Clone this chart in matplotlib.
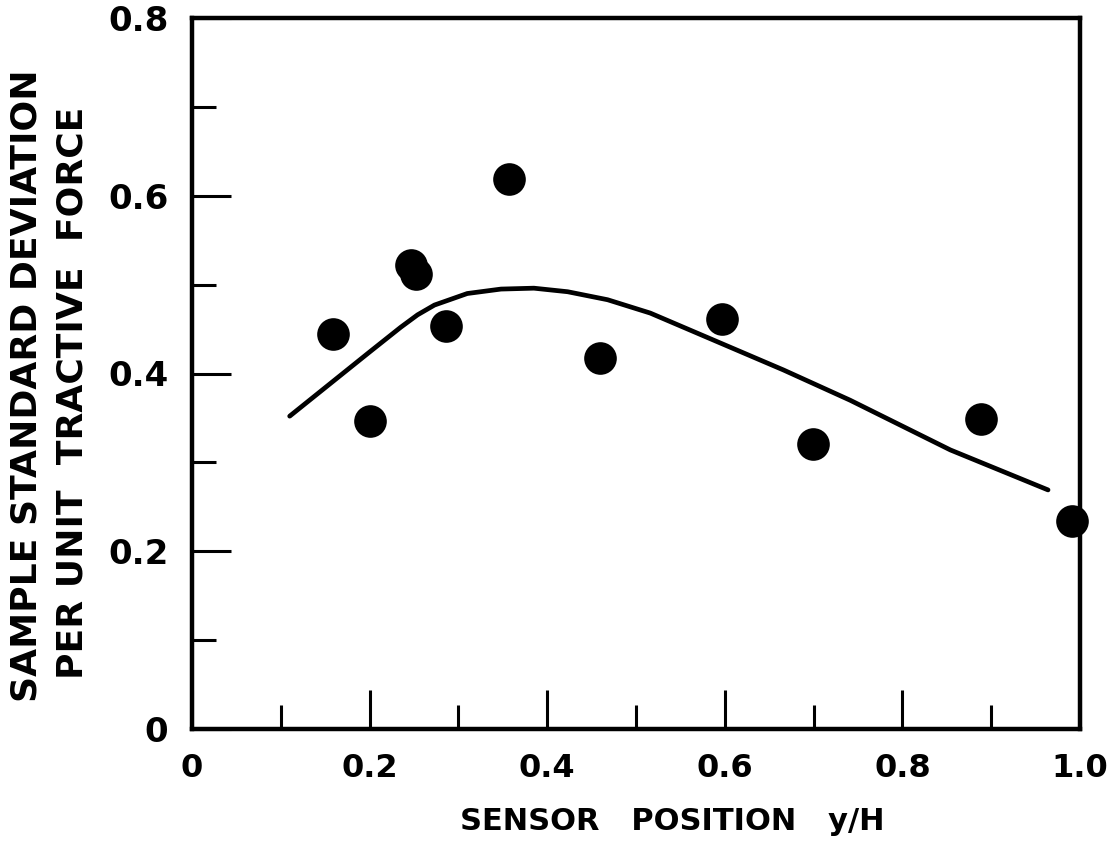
import matplotlib
matplotlib.use("Agg")
import matplotlib.pyplot as plt
from matplotlib.ticker import MultipleLocator, FixedLocator

# Data
pos_x = [0.159, 0.201, 0.247, 0.252, 0.286, 0.357, 0.459, 0.597, 0.699, 0.888, 0.991]
std_y = [0.444, 0.347, 0.522, 0.512, 0.453, 0.619, 0.418, 0.461, 0.321, 0.349, 0.234]

curve_x = [0.110, 0.201, 0.235, 0.254, 0.273, 0.310, 0.348, 0.385, 0.423,
           0.468, 0.516, 0.591, 0.666, 0.741, 0.854, 0.964]
curve_y = [0.352, 0.425, 0.452, 0.466, 0.477, 0.490, 0.495, 0.496, 0.492,
           0.483, 0.468, 0.436, 0.404, 0.370, 0.314, 0.269]

x_major = [0.0, 0.2, 0.4, 0.6, 0.8, 1.0]
x_labels = ["0", "0.2", "0.4", "0.6", "0.8", "1.0"]
y_major = [0.0, 0.2, 0.4, 0.6, 0.8]
y_labels = ["0", "0.2", "0.4", "0.6", "0.8"]

plt.rcParams['font.family'] = ['DejaVu Sans']
fig = plt.figure(figsize=(11.15, 8.51), dpi=100)
ax = fig.add_axes([192/1115, 1 - 729/851, (1080-192)/1115, (729-18)/851])

ax.plot(curve_x, curve_y, color='black', lw=3.4, solid_capstyle='round',
        solid_joinstyle='round', zorder=2)
ax.plot(pos_x, std_y, 'o', color='black', markersize=23.5, markeredgewidth=0,
        clip_on=False, zorder=3)

ax.set_xlim(0, 1.0)
ax.set_ylim(0, 0.8)

ax.xaxis.set_major_locator(FixedLocator(x_major))
ax.yaxis.set_major_locator(FixedLocator(y_major))
ax.xaxis.set_minor_locator(MultipleLocator(0.1))
ax.yaxis.set_minor_locator(MultipleLocator(0.1))
ax.set_xticklabels(x_labels)
ax.set_yticklabels(y_labels)

for s in ax.spines.values():
    s.set_linewidth(3.2)

ax.tick_params(which='major', direction='in', length=28, width=2.2)
ax.tick_params(which='minor', direction='in', length=17, width=2.2)
ax.tick_params(axis='x', which='major', pad=17, labelsize=23)
ax.tick_params(axis='y', which='major', pad=17, labelsize=24.5)
for lab in ax.get_xticklabels() + ax.get_yticklabels():
    lab.set_fontweight('bold')

fig.text(672/1115, 1 - 822/851, "SENSOR   POSITION   y/H",
         ha='center', va='center', fontsize=22, fontweight='bold')
fig.text(27/1115, 1 - 386/851, "SAMPLE STANDARD DEVIATION",
         ha='center', va='center', rotation=90, fontsize=26, fontweight='bold')
fig.text(73/1115, 1 - 393/851, "PER UNIT  TRACTIVE  FORCE",
         ha='center', va='center', rotation=90, fontsize=26, fontweight='bold')

fig.savefig("out.png", dpi=100)
